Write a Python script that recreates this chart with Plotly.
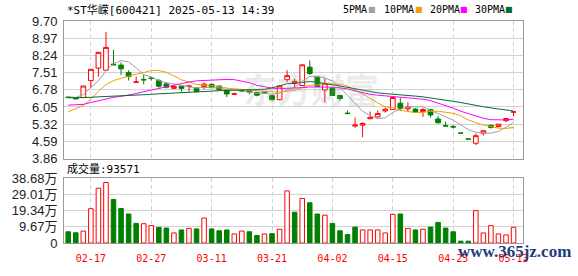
import plotly.graph_objects as go

# ---------------- data ----------------
dates = ["02-12","02-13","02-14","02-17","02-18","02-19","02-20","02-21","02-24","02-25",
         "02-26","02-27","02-28","03-03","03-04","03-05","03-06","03-07","03-10","03-11",
         "03-12","03-13","03-14","03-17","03-18","03-19","03-20","03-21","03-24","03-25",
         "03-26","03-27","03-28","03-31","04-01","04-02","04-03","04-07","04-08","04-09",
         "04-10","04-11","04-14","04-15","04-16","04-17","04-18","04-21","04-22","04-23",
         "04-24","04-25","04-28","04-30","05-06","05-07","05-08","05-09","05-12","05-13"]

opens = [6.47,6.44,6.45,7.17,7.70,7.61,7.87,7.83,7.51,7.10,
         7.22,7.28,7.17,7.03,6.84,6.93,6.92,6.85,6.92,7.01,
         6.94,6.78,6.59,6.75,6.77,6.66,6.69,6.53,6.36,7.21,
         7.05,6.96,7.74,7.33,6.77,6.85,6.54,5.79,5.24,5.28,
         5.55,5.63,5.88,5.94,6.21,5.97,5.96,5.85,5.94,5.54,
         5.26,5.22,4.94,4.69,4.51,4.93,5.27,5.22,5.47,5.83]
highs = [6.49,6.46,6.94,7.65,8.39,9.24,8.48,7.94,7.61,7.34,
         7.41,7.34,7.24,7.10,7.00,6.95,6.95,6.90,7.10,7.05,
         6.96,6.80,6.66,6.80,6.79,6.68,6.72,6.55,6.96,7.61,
         7.25,7.85,8.03,7.35,7.27,6.87,6.56,5.90,5.60,5.40,
         5.86,5.90,6.03,6.46,6.43,6.25,6.00,6.00,5.98,5.67,
         5.43,5.30,4.94,4.69,4.92,5.05,5.30,5.33,5.57,5.84]
lows = [6.43,6.37,6.45,6.87,7.34,7.60,7.82,7.41,7.17,7.09,
        7.01,7.17,6.87,6.84,6.83,6.70,6.70,6.67,6.80,6.85,
        6.76,6.47,6.55,6.68,6.58,6.50,6.60,6.33,6.34,7.11,
        6.88,6.95,7.41,6.90,6.24,6.52,6.31,5.77,5.17,4.77,
        5.54,5.60,5.81,5.93,5.90,5.85,5.80,5.63,5.60,5.34,
        5.24,5.14,4.94,4.69,4.43,4.84,5.13,5.18,5.40,5.65]
closes = [6.45,6.40,6.94,7.65,8.37,8.58,7.84,7.67,7.34,7.11,
          7.20,7.26,6.93,6.89,6.92,6.84,6.94,6.70,7.02,6.87,
          6.78,6.60,6.61,6.73,6.68,6.55,6.65,6.36,6.94,7.38,
          7.14,7.84,7.47,6.92,7.05,6.54,6.41,5.77,5.28,5.35,
          5.60,5.77,5.95,6.45,6.00,6.05,5.84,5.94,5.71,5.38,
          5.24,5.20,4.94,4.69,4.83,5.04,5.18,5.32,5.56,5.84]

ma5 = [6.49,6.45,6.58,6.88,7.16,7.59,7.88,8.02,7.96,7.71,
       7.43,7.32,7.17,7.08,7.04,6.97,6.90,6.86,6.88,6.87,
       6.86,6.79,6.78,6.72,6.68,6.63,6.64,6.59,6.64,6.78,
       6.89,7.13,7.35,7.35,7.28,7.16,6.88,6.54,6.21,5.87,
       5.68,5.55,5.59,5.82,5.95,6.04,6.06,6.06,5.91,5.78,
       5.62,5.49,5.29,5.09,4.98,4.94,4.94,5.01,5.19,5.39]
ma10 = [5.84,5.98,6.12,6.38,6.72,7.00,7.17,7.27,7.37,7.44,
        7.51,7.60,7.60,7.52,7.37,7.20,7.11,7.01,6.98,6.96,
        6.92,6.85,6.82,6.80,6.78,6.75,6.72,6.69,6.68,6.73,
        6.76,6.89,6.97,6.99,7.03,7.03,7.01,6.95,6.78,6.58,
        6.42,6.22,6.06,6.02,5.91,5.86,5.81,5.82,5.87,5.87,
        5.83,5.78,5.68,5.50,5.38,5.28,5.22,5.15,5.14,5.18]
ma20 = [6.13,6.13,6.16,6.24,6.31,6.40,6.46,6.50,6.55,6.62,
        6.70,6.77,6.86,6.93,7.00,7.06,7.11,7.16,7.18,7.20,
        7.21,7.22,7.21,7.16,7.08,6.97,6.91,6.85,6.83,6.84,
        6.84,6.87,6.90,6.90,6.90,6.89,6.86,6.82,6.73,6.65,
        6.59,6.55,6.52,6.51,6.47,6.45,6.41,6.38,6.32,6.22,
        6.13,6.00,5.87,5.76,5.65,5.57,5.51,5.49,5.50,5.53]
ma30 = [6.44,6.44,6.45,6.46,6.48,6.49,6.50,6.51,6.53,6.55,
        6.57,6.59,6.61,6.62,6.63,6.65,6.67,6.69,6.71,6.73,
        6.74,6.75,6.76,6.77,6.78,6.79,6.80,6.86,6.95,7.04,
        7.06,7.11,7.13,7.10,7.06,6.99,6.94,6.88,6.81,6.75,
        6.70,6.65,6.62,6.60,6.57,6.55,6.51,6.48,6.44,6.39,
        6.34,6.29,6.24,6.17,6.11,6.06,6.01,5.97,5.93,5.88]

# volume in 万 (10k shares)
volumes = [6.7,6.1,7.1,20.5,32.7,36.1,26.0,20.6,17.3,11.7,
           11.5,10.4,9.3,8.9,6.0,7.8,8.7,8.4,14.9,8.4,
           7.3,7.8,5.4,7.1,6.7,4.5,5.4,5.6,8.2,31.1,
           18.4,26.6,24.0,17.3,16.6,11.7,7.3,5.0,9.5,7.8,
           7.8,7.8,6.0,17.1,17.3,8.7,7.8,8.2,9.5,12.3,
           8.9,6.7,1.1,1.1,19.3,6.0,10.4,5.4,4.8,9.3571]

tick_dates = ["02-17","02-27","03-11","03-21","04-02","04-15","04-25","05-13"]
price_ticks = [3.86,4.59,5.32,6.05,6.78,7.51,8.24,8.97,9.70]
vol_ticks = [0,9.67,19.34,29.01,38.68]
vol_tick_text = ["0","9.67万","19.34万","29.01万","38.68万"]

title_text = "*ST华嵘[600421] 2025-05-13 14:39"
vol_label = "成交量:93571"
ma_names = ["5PMA","10PMA","20PMA","30PMA"]
ma_colors = ["#a0a0a0","#f0a000","#ff00ff","#006e32"]

# ---------------- layout geometry ----------------
W, H = 578, 276
ML, MR, MT, MB = 56, 55, 21, 21
PW, PH = W - ML - MR, H - MT - MB
def px(x):
    return (x - ML) / PW
def py(y):
    return (H - MB - y) / PH

RED = "#ff0000"
GREEN = "#008000"
idx = list(range(len(dates)))

fig = go.Figure()

fig.add_trace(go.Candlestick(
    x=idx, open=opens, high=highs, low=lows, close=closes,
    increasing=dict(line=dict(color=RED, width=1), fillcolor="white"),
    decreasing=dict(line=dict(color=GREEN, width=1), fillcolor=GREEN),
    whiskerwidth=0, xaxis="x", yaxis="y", hoverinfo="skip"))

for vals, col in zip([ma5, ma10, ma20, ma30], ma_colors):
    fig.add_trace(go.Scatter(x=idx, y=vals, mode="lines",
                             line=dict(color=col, width=1, shape="linear"),
                             xaxis="x", yaxis="y", hoverinfo="skip"))

# volume colour: close vs previous close (first bar: close vs open)
vol_up = []
for i, c in enumerate(closes):
    ref = closes[i - 1] if i > 0 else opens[0]
    vol_up.append(c > ref)
fill = ["white" if u else GREEN for u in vol_up]
edge = [RED if u else GREEN for u in vol_up]
fig.add_trace(go.Bar(x=idx, y=volumes, width=0.6,
                     marker=dict(color=fill, line=dict(color=edge, width=1)),
                     xaxis="x2", yaxis="y2", hoverinfo="skip"))

tick_idx = [dates.index(d) for d in tick_dates]
xr = [-0.56, 60.25]
frame = "#9a9a9a"
grid = "#d2d2d2"
tfont = dict(family="Liberation Sans, Noto Sans CJK SC", size=13, color="#222222")
mono = "DejaVu Sans Mono, Noto Sans CJK SC"

common_x = dict(range=xr, tickvals=tick_idx, showgrid=True, gridcolor=grid, griddash="4px,3px",
                gridwidth=1, showline=True, mirror=True, linecolor=frame, linewidth=1,
                zeroline=False, ticks="", fixedrange=True)

fig.update_layout(
    width=W, height=H,
    margin=dict(l=ML, r=MR, t=MT, b=MB, pad=0),
    paper_bgcolor="white", plot_bgcolor="white",
    showlegend=False, hovermode=False,
    boxgap=0.2, boxgroupgap=0.22, bargap=0.3,
    xaxis=dict(domain=[0, 1], anchor="y", showticklabels=False,
               rangeslider=dict(visible=False), **common_x),
    yaxis=dict(domain=[py(166), 1], range=[price_ticks[0], price_ticks[-1]],
               tickvals=price_ticks, ticktext=[f"{v:.2f}" for v in price_ticks],
               showgrid=True, gridcolor=grid, gridwidth=1, showline=True, mirror=True,
               linecolor=frame, zeroline=False, ticks="", tickfont=tfont,
               ticklabelstandoff=3, fixedrange=True),
    xaxis2=dict(domain=[0, 1], anchor="y2", ticktext=tick_dates, showticklabels=True,
                ticklabelstandoff=6,
                tickfont=dict(family=mono, size=10, color=RED), **common_x),
    yaxis2=dict(domain=[0, py(186.7)], range=[vol_ticks[0], vol_ticks[-1]],
                tickvals=vol_ticks, ticktext=vol_tick_text,
                showgrid=True, gridcolor=grid, gridwidth=1, showline=True, mirror=True,
                linecolor=frame, zeroline=False, ticks="", tickfont=tfont,
                ticklabelstandoff=3, fixedrange=True),
)

ann = []
# title
ann.append(dict(x=px(57), y=py(9), xref="paper", yref="paper", text=title_text,
                showarrow=False, xanchor="left", yanchor="middle",
                font=dict(family=mono, size=11, color="#000000")))
# legend
leg_text_x = [338, 380, 426, 472]
leg_sq_x = [368, 416, 462, 508]
for name, col, tx, sx in zip(ma_names, ma_colors, leg_text_x, leg_sq_x):
    ann.append(dict(x=px(tx), y=py(9), xref="paper", yref="paper", text=name,
                    showarrow=False, xanchor="left", yanchor="middle",
                    font=dict(family=mono, size=10, color="#000000")))
    ann.append(dict(x=px(sx + 1), y=py(9), xref="paper", yref="paper", text="■",
                    showarrow=False, xanchor="center", yanchor="middle",
                    font=dict(family="DejaVu Sans", size=8, color=col)))
# volume label
ann.append(dict(x=px(57), y=py(177), xref="paper", yref="paper", text=vol_label,
                showarrow=False, xanchor="left", yanchor="middle",
                font=dict(family=mono, size=11, color="#000000")))
# watermark (东方财富)
ann.append(dict(x=px(307), y=py(92), xref="paper", yref="paper", text="<b>东方财富</b>",
                showarrow=False, xanchor="center", yanchor="middle",
                font=dict(family="Noto Sans CJK SC", size=34, color="rgba(160,160,160,0.22)")))
# bottom-right watermark
ann.append(dict(x=px(514), y=py(264), xref="paper", yref="paper", text="<b>www.365jz.com</b>",
                showarrow=False, xanchor="center", yanchor="middle",
                font=dict(family="Liberation Serif", size=17, color="#1f3c7a")))
fig.update_layout(annotations=ann)

fig.write_html("out.html", config=dict(displayModeBar=False, staticPlot=True))
